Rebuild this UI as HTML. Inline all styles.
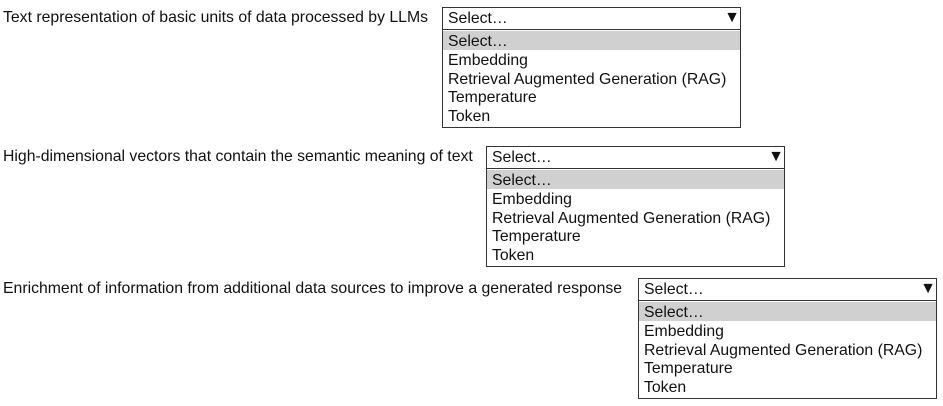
<!DOCTYPE html>
<html><head><style>
body{margin:0;width:943px;height:406px;background:#fff;font-family:"Liberation Sans",Arial,sans-serif;font-size:15.8px;color:#111;position:relative;overflow:hidden}
.lbl{position:absolute;left:3px;white-space:nowrap;line-height:18px}
.sel{position:absolute;width:297px;height:21px;border:1px solid #333;box-sizing:content-box}
.sel span{position:absolute;left:5px;top:2px;line-height:18px}
.sel b{position:absolute;right:0px;top:1px;font-size:16px;line-height:18px}
.list{position:absolute;width:297px;height:97px;border:1px solid #333;border-top:none}
.list div{height:18.5px;line-height:18.5px;padding-left:5px;white-space:nowrap;position:relative;top:2px}
.list div.h{background:#d0d0d0;margin-top:1px;line-height:21px;height:19px;top:0}
</style></head><body>
<div class="lbl" style="top:9px">Text representation of basic units of data processed by LLMs</div>
<div class="sel" style="left:442px;top:7px"><span>Select…</span><b>▼</b></div>
<div class="list" style="left:442px;top:30px"><div class="h">Select…</div><div>Embedding</div><div>Retrieval Augmented Generation (RAG)</div><div>Temperature</div><div>Token</div></div>

<div class="lbl" style="top:148px">High-dimensional vectors that contain the semantic meaning of text</div>
<div class="sel" style="left:486px;top:146px"><span>Select…</span><b>▼</b></div>
<div class="list" style="left:486px;top:169px"><div class="h">Select…</div><div>Embedding</div><div>Retrieval Augmented Generation (RAG)</div><div>Temperature</div><div>Token</div></div>

<div class="lbl" style="top:280px">Enrichment of information from additional data sources to improve a generated response</div>
<div class="sel" style="left:638px;top:278px"><span>Select…</span><b>▼</b></div>
<div class="list" style="left:638px;top:301px"><div class="h">Select…</div><div>Embedding</div><div>Retrieval Augmented Generation (RAG)</div><div>Temperature</div><div>Token</div></div>
</body></html>
